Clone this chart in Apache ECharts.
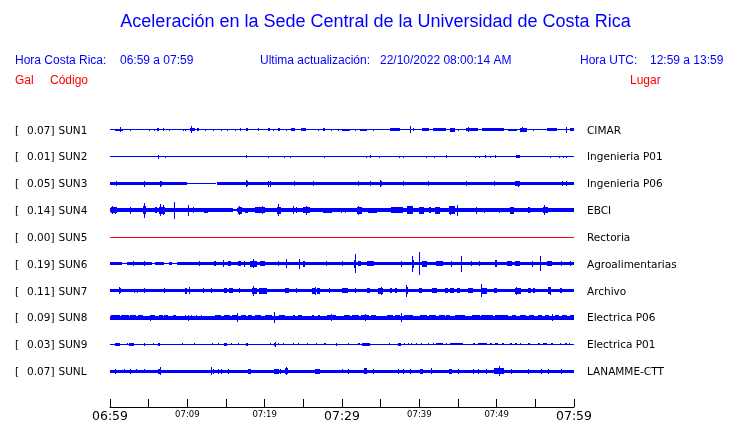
<!DOCTYPE html>
<html>
<head>
<meta charset="utf-8">
<script src="https://cdn.jsdelivr.net/npm/echarts@6/dist/echarts.min.js"></script>
<style>html,body{margin:0;padding:0;background:#fff;}#c{width:740px;height:423px;}</style>
</head>
<body>
<div id="c"></div>
<script>
// ---- data ----
const codes = ['SUN1','SUN2','SUN3','SUN4','SUN5','SUN6','SUN7','SUN8','SUN9','SUNL'];
const gal = ['0.07','0.01','0.05','0.14','0.00','0.19','0.11','0.09','0.03','0.07'];
const places = ['CIMAR','Ingenieria P01','Ingenieria P06','EBCI','Rectoria','Agroalimentarias','Archivo','Electrica P06','Electrica P01','LANAMME-CTT'];
const tickLabels = ['06:59','07:09','07:19','07:29','07:39','07:49','07:59'];
const majorLabels = ['06:59','07:29','07:59'];

// each entry: [startMinute, endMinute, halfAmplitude]
const sun1Base = [[0,60,0.5]];
const sun1Events = [[0.65,1.7,1.2],[1.4,1.4,2.5],[2.6,2.6,1],[5.1,5.1,1],[5.7,5.7,1],[6.1,6.3,1.3],[6.9,7.0,1.3],[7.7,7.7,1],[9.5,9.5,1],[9.8,9.8,1],[10.3,10.9,1.5],[10.5,10.5,3.3],[11.2,11.4,1.3],[12.3,12.3,1],[13.4,13.4,1],[14.4,14.4,1],[15.2,15.2,1],[16.2,16.2,1],[16.8,16.9,1.3],[17.6,17.8,1.5],[19.2,19.2,1.3],[20.4,20.7,1.3],[21.1,21.1,1],[21.7,21.9,1.3],[22.8,22.8,1],[23.4,23.9,1.5],[24.7,25.4,1.3],[26.9,26.9,1],[27.6,27.8,1.3],[28.7,28.7,1],[29.5,29.5,1],[30.0,31.0,1.2],[31.7,31.7,1],[32.3,33.2,1.2],[34.05,34.05,1],[36.2,37.5,1.3],[38.8,38.8,3.5],[39.2,39.2,1.3],[40.3,41.2,1.3],[41.8,43.5,1.3],[44.0,44.6,2],[45.0,45.0,1],[46.0,47.6,1.5],[46.3,46.3,2.5],[48.1,50.9,1.3],[51.5,52.6,1.2],[53.0,53.9,2],[53.4,53.4,2.5],[54.7,54.7,1],[56.5,57.8,1.3],[59.0,59.0,3],[59.5,60,1.3]];

const sun2Base = [[0,60,0.5]];
const sun2Events = [[6.25,6.25,2],[7.2,7.2,1.2],[17.7,17.7,1.5],[20.5,20.5,1],[22.6,22.6,1],[23.3,23.3,1],[27.7,27.7,1],[33.2,33.2,1],[33.7,33.7,1.3],[34.9,34.9,1],[37.4,37.4,1],[38.0,38.0,1],[40.9,40.9,1],[42.0,42.0,1],[43.5,43.5,1.3],[47.3,47.3,1],[47.8,47.8,1],[48.6,48.6,1.3],[49.2,49.2,1],[49.9,49.9,1.3],[52.5,53.0,1.5],[57.0,57.0,1],[58.1,58.1,1],[58.6,58.6,1],[59.0,59.0,1]];

const sun3Base = [[0,10.0,1.7],[10.0,13.8,0.5],[13.8,60,1.7]];
const sun3Events = [[0.86,0.86,2.7],[4.5,4.5,3],[6.5,6.5,3],[6.65,6.65,2.7],[17.6,17.8,2.5],[17.7,17.7,3.5],[20.5,20.5,3],[20.7,20.7,3],[23.8,23.8,2.5],[26.3,26.3,2.3],[32.1,32.1,2.5],[33.7,33.7,2.5],[35.0,35.0,3.5],[34.9,35.1,2.5],[37.9,37.9,2.5],[41.2,41.2,2.3],[46.1,46.1,2.3],[49.7,49.7,2.7],[52.4,53.0,2.5],[52.8,52.8,3.2],[58.5,58.5,2.5],[59.0,59.0,2.5]];

const sun4Base = [[0,15.9,2],[15.9,16.4,1],[16.4,60,2]];
const sun4Events = [[0.1,0.9,3],[0.3,0.3,4],[0.7,0.7,3.5],[2.7,2.7,3.5],[4.3,4.7,4],[4.5,4.5,7.5],[5.8,6.0,3],[6.3,7.1,3.5],[6.5,6.5,6],[6.9,6.9,5],[8.4,8.4,8.8],[10.1,10.1,5.5],[10.8,10.8,3],[12.1,12.6,2.7],[16.5,17.0,3.5],[16.7,16.7,4.5],[17.5,17.9,2.7],[18.7,20.0,2.8],[19.7,19.7,4],[21.6,22.1,3.5],[21.8,21.8,6],[23.7,23.7,4],[24.1,24.1,3],[25.0,25.9,3],[25.4,25.4,4.5],[27.6,28.7,2.7],[29.96,29.96,2.5],[30.5,30.5,2.5],[31.9,32.5,3.5],[32.1,32.1,4.5],[33.4,34.5,2.7],[36.4,37.9,3.2],[38.4,39.2,3.8],[39.9,40.5,3.5],[41.2,41.4,3],[42.0,42.7,3.5],[43.8,44.6,3.8],[44.0,44.0,4.5],[44.9,44.9,5.5],[47.4,47.4,3.5],[48.4,48.4,2.7],[50.4,50.4,2.7],[51.7,52.2,3.5],[54.1,54.3,3],[56.0,56.7,3.2],[56.2,56.2,5]];

const sun5Base = [[0,60,0.5]];
const sun5Events = [];

const sun6Base = [[0,1.5,1.5],[1.5,2.2,0.5],[2.2,5.4,1.5],[5.4,5.8,0.5],[5.8,7.0,1.5],[7.0,7.6,0.5],[7.6,8.0,1.5],[8.0,8.6,0.5],[8.6,60,1.5]];
const sun6Events = [[3.0,3.0,2.5],[4.4,4.4,2.3],[11.6,11.6,2.5],[13.5,13.7,2.7],[14.7,14.7,3.5],[15.3,15.7,2.7],[16.6,17.0,2.5],[17.4,17.4,3],[18.1,19.0,3],[18.6,18.6,4.5],[19.4,20.0,2.7],[21.8,21.8,2.5],[22.8,22.8,4.5],[24.5,24.5,5],[25.0,25.2,3],[28.0,28.0,2.7],[30.0,30.0,2.5],[31.7,31.7,9.5],[31.6,31.8,4],[32.1,32.5,2.5],[33.2,34.05,2.5],[37.7,37.7,3],[39.0,39.2,4],[39.1,39.1,8],[40.0,40.0,11.8],[40.3,41.0,2.8],[42.2,43.1,2.5],[44.2,44.2,3],[45.4,45.4,8.3],[46.8,46.8,2.5],[47.8,47.8,2.5],[49.8,50.0,3.5],[51.3,52.0,2.5],[52.4,53.0,2.5],[54.65,54.65,3],[55.7,55.7,7.5],[56.5,57.1,2.7],[58.4,58.4,2.5],[59.5,59.5,2.5]];

const sun7Base = [[0,60,1.6]];
const sun7Events = [[1.1,1.3,2.7],[1.2,1.2,3.5],[3.2,3.2,2],[3.5,3.5,2],[4.5,4.5,2.5],[7.1,7.1,2.5],[9.7,9.9,3],[10.3,10.3,3.5],[12.1,12.1,2.3],[13.1,13.1,2.5],[14.7,15.1,2.7],[15.4,15.9,2.7],[16.8,16.8,2.5],[18.3,19.0,2.8],[18.6,18.6,5],[19.3,20.3,2.8],[22.6,23.1,2.7],[24.1,24.1,2.5],[26.1,26.5,2.8],[26.6,26.6,4],[26.8,27.2,2.8],[28.4,28.4,2.7],[30.0,30.8,2.5],[31.7,31.7,2.7],[33.2,33.6,2.5],[34.7,35.3,3],[35.1,35.1,3.8],[36.2,36.5,2.5],[36.8,37.1,2.5],[38.4,38.4,6],[38.3,38.6,3.5],[39.9,40.3,2.5],[41.6,42.2,2.5],[43.3,43.7,2.5],[44.0,44.5,2.5],[44.9,45.3,2.5],[46.3,47.0,2.5],[48.0,48.8,3.2],[48.1,48.1,6.3],[49.6,50.0,2.5],[52.4,53.2,3],[52.6,52.6,3.8],[54.1,54.5,2.7],[54.7,55.0,2.7],[56.7,57.1,3.5],[56.9,56.9,4.2],[58.2,58.4,2.5]];

const sun8Base = [[0,60,1.8]];
const sun8Events = [[0.1,1.2,2.5],[1.4,2.4,2.5],[2.6,3.4,2.5],[3.6,4.2,2.5],[5.2,5.8,2.3],[5.3,5.3,3],[6.3,6.8,2.5],[7.0,7.5,2.5],[8.2,8.6,2.5],[9.8,9.8,2.5],[10.1,10.1,2.8],[10.6,10.6,2.3],[11.2,11.2,2.3],[11.8,11.8,2.3],[13.6,14.4,2.5],[14.7,15.5,2.7],[15.8,16.5,2.7],[16.5,16.5,4.5],[16.9,17.5,2.7],[17.9,18.4,2.5],[18.8,19.6,2.5],[20.0,20.9,2.5],[21.3,21.3,5.3],[21.8,22.6,2.5],[23.7,24.0,2.3],[24.3,24.8,2.5],[26.1,26.3,2.3],[26.9,27.1,2.3],[28.0,29.1,2.5],[28.7,28.7,3.5],[30.2,31.0,2.5],[31.3,32.2,2.5],[32.5,33.5,2.5],[33.0,33.0,3.5],[33.8,34.5,2.3],[35.8,36.6,2.5],[36.9,37.6,2.5],[37.7,37.7,4.5],[38.0,39.2,2.5],[40.1,41.0,2.5],[41.3,42.2,2.5],[42.5,43.3,2.5],[43.5,44.0,2.5],[44.6,45.9,2.7],[46.8,47.8,2.5],[48.0,49.5,2.5],[49.8,51.5,2.5],[52.0,52.5,2.3],[53.0,53.8,2.3],[54.2,54.8,2.3],[55.3,55.8,2.3],[56.3,56.8,2.3],[57.2,57.2,3.5],[57.5,58.0,2.3],[58.5,59.2,2.3],[59.5,60,2.3]];

const sun9Base = [[0,60,0.5]];
const sun9Events = [[0.65,1.3,1.3],[2.2,2.2,1],[2.4,3.0,1.3],[4.5,4.5,1.3],[5.6,5.6,1],[6.25,6.5,1.3],[9.4,9.4,1],[10.9,10.9,1],[13.2,13.2,1],[14.0,14.0,1],[14.7,15.1,1.3],[15.7,15.7,1],[16.6,16.6,1],[17.6,17.8,1.3],[20.8,20.8,1],[21.2,21.5,1.5],[21.35,21.35,2.5],[21.8,21.8,1],[22.4,22.4,1],[23.7,23.7,1],[24.4,24.4,1],[25.6,25.6,1],[26.7,26.7,1],[27.7,28.0,1],[29.3,29.3,1.3],[30.8,30.8,1],[32.1,32.3,1],[32.6,33.6,1.3],[36.2,36.2,1],[37.2,37.6,1.5],[38.1,38.1,1],[38.6,38.6,1],[39.0,39.0,1],[39.6,39.6,1],[40.3,40.3,1],[41.2,41.2,1],[41.8,41.8,1],[42.2,43.1,1],[43.5,43.5,1],[44.0,45.7,1.2],[47.0,47.3,1],[47.6,48.7,1.2],[49.1,49.3,1],[49.8,50.2,1],[50.7,50.9,1],[51.7,52.0,1],[52.4,52.7,1],[53.0,53.1,1],[54.1,54.3,1],[55.4,55.7,1.2],[56.0,56.5,1.2],[57.0,57.3,1],[58.2,58.3,1],[58.8,59.0,1],[59.4,59.5,1]];

const sunLBase = [[0,60,1.6]];
const sunLEvents = [[0.65,0.65,2.5],[1.9,1.9,1.8],[2.7,2.7,2.3],[3.45,3.45,2],[4.5,4.5,2],[6.25,6.5,2.5],[6.5,6.5,4],[13.1,13.1,4],[13.4,13.4,2.5],[14.0,14.0,2.5],[14.4,14.4,2.5],[15.3,15.3,2.3],[17.9,18.3,2.3],[21.2,21.8,2.5],[22.1,22.1,2.5],[22.6,23.0,2.8],[22.8,22.8,4],[26.5,27.2,2.5],[30.0,30.0,2],[30.8,30.8,2.3],[32.8,33.2,3],[34.05,34.05,2.7],[37.3,37.3,2.3],[37.9,37.9,2.3],[38.9,38.9,2.3],[40.1,40.5,2.5],[41.6,41.6,3],[43.8,44.2,2.5],[45.0,45.0,2.3],[47.0,47.0,2.3],[47.6,47.6,2.3],[48.7,48.7,2.3],[49.6,50.9,2.8],[50.4,50.4,5],[51.9,51.9,2.3],[54.1,54.1,2.3],[55.8,55.8,2.3],[56.7,56.7,2.5],[58.4,58.4,2.3]];

const traceBases = [sun1Base,sun2Base,sun3Base,sun4Base,sun5Base,sun6Base,sun7Base,sun8Base,sun9Base,sunLBase];
const traceEvents = [sun1Events,sun2Events,sun3Events,sun4Events,sun5Events,sun6Events,sun7Events,sun8Events,sun9Events,sunLEvents];

// ---- chart ----
const BLUE = '#0000ff', RED = '#ff0000';
const SPACING = 27;
const FONT_LBL = '10.5px "DejaVu Sans"';
const chart = echarts.init(document.getElementById('c'), null, {renderer: 'canvas'});

function traceSeries(i) {
  const color = i === 4 ? RED : BLUE;
  const data = traceBases[i].concat(traceEvents[i]);
  return {
    type: 'custom', name: codes[i], silent: true, clip: false,
    itemStyle: {color: color},
    data: data,
    renderItem: function (params, api) {
      const t0 = api.value(0), t1 = api.value(1), a = api.value(2);
      const off = i * SPACING;
      const pA = api.coord([t0, off - a]);
      const pB = api.coord([t1, off + a]);
      let x = Math.min(pA[0], pB[0]);
      let w = Math.abs(pB[0] - pA[0]);
      let y = Math.min(pA[1], pB[1]);
      let h = Math.abs(pB[1] - pA[1]);
      if (w < 1) { x = (pA[0] + pB[0]) / 2 - 0.5; w = 1; }
      x = Math.round(x); w = Math.max(1, Math.round(w));
      const yc = y + h / 2;
      h = Math.max(1, Math.round(h));
      y = Math.round(yc - h / 2);
      return {type: 'rect', shape: {x: x, y: y, width: w, height: h}, style: {fill: color, stroke: null}};
    }
  };
}

const series = [];
for (let i = 0; i < codes.length; i++) series.push(traceSeries(i));
series.push({
  type: 'custom', name: 'labels', silent: true, clip: false,
  data: codes.map(function (c, i) { return [0, i]; }),
  renderItem: function (params, api) {
    const i = api.value(1);
    const y = api.coord([0, i * SPACING])[1] + 1;
    return {type: 'group', children: [
      {type: 'text', x: 15, y: y, style: {text: '[', fill: '#000', font: FONT_LBL, align: 'left', verticalAlign: 'middle'}},
      {type: 'text', x: 54.5, y: y, style: {text: gal[i] + ']', fill: '#000', font: FONT_LBL, align: 'right', verticalAlign: 'middle'}},
      {type: 'text', x: 58.5, y: y, style: {text: codes[i], fill: '#000', font: FONT_LBL, align: 'left', verticalAlign: 'middle'}},
      {type: 'text', x: 587, y: y, style: {text: places[i], fill: '#000', font: FONT_LBL, align: 'left', verticalAlign: 'middle'}}
    ]};
  }
});

const HF = '12px "Liberation Sans"';
function ht(x, y, text, color, align) {
  return {type: 'text', x: x, y: y, style: {text: text, fill: color, font: HF, align: align || 'left', verticalAlign: 'middle'}};
}

chart.setOption({
  animation: false,
  backgroundColor: '#fff',
  grid: {left: 110, right: 166, top: 110, bottom: 14},
  xAxis: {
    type: 'value', min: 0, max: 60, interval: 5, position: 'bottom',
    axisLine: {show: true, onZero: false, lineStyle: {color: '#000', width: 1}},
    axisTick: {show: true, inside: true, length: 8, lineStyle: {color: '#000', width: 1}},
    splitLine: {show: false},
    axisLabel: {
      margin: 3, showMinLabel: true, showMaxLabel: true, hideOverlap: false,
      formatter: function (v) {
        if (v % 10 !== 0) return '';
        const lab = tickLabels[v / 10];
        return majorLabels.indexOf(lab) >= 0 ? '{big|' + lab + '}' : '{small|' + lab + '}';
      },
      rich: {
        big: {fontSize: 12.5, fontFamily: 'DejaVu Sans', color: '#000'},
        small: {fontSize: 8.5, fontFamily: 'DejaVu Sans', color: '#000'}
      }
    }
  },
  yAxis: {type: 'value', inverse: true, min: -20, max: 279, show: false},
  graphic: [
    {type: 'text', x: 375.5, y: 22, style: {text: 'Aceleración en la Sede Central de la Universidad de Costa Rica', fill: BLUE, font: '18px "Liberation Sans"', align: 'center', verticalAlign: 'middle'}},
    ht(15, 61, 'Hora Costa Rica:', BLUE),
    ht(120, 61, '06:59 a 07:59', BLUE),
    ht(260, 61, 'Ultima actualización:', BLUE),
    ht(380, 61, '22/10/2022 08:00:14 AM', BLUE),
    ht(580, 61, 'Hora UTC:', BLUE),
    ht(650, 61, '12:59 a 13:59', BLUE),
    ht(15, 81, 'Gal', RED),
    ht(50, 81, 'Código', RED),
    ht(630, 81, 'Lugar', RED)
  ],
  series: series
});
</script>
</body>
</html>
